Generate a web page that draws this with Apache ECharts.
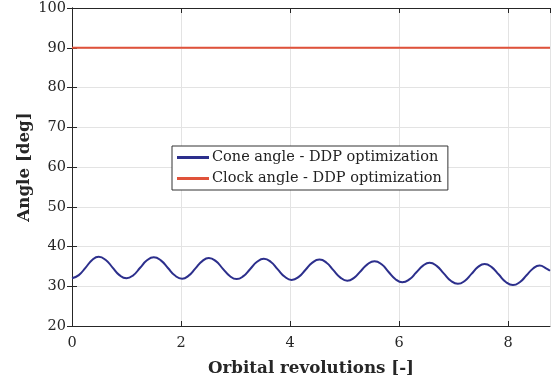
<!DOCTYPE html>
<html>
<head>
<meta charset="utf-8">
<script src="https://cdn.jsdelivr.net/npm/echarts@6/dist/echarts.min.js"></script>
<style>
  html, body { margin: 0; padding: 0; background: #fff; }
  #chart { width: 558px; height: 383px; }
</style>
</head>
<body>
<div id="chart"></div>
<script>
  // orbital revolutions (trough / mid / peak points)
  var revs = [
    0.000, 0.125, 0.250, 0.370, 0.490, 0.620, 0.745, 0.870,
    1.000, 1.125, 1.250, 1.375, 1.500, 1.630, 1.760, 1.890,
    2.020, 2.140, 2.265, 2.390, 2.510, 2.640, 2.765, 2.895,
    3.020, 3.145, 3.270, 3.395, 3.520, 3.650, 3.775, 3.905,
    4.030, 4.160, 4.285, 4.410, 4.540, 4.670, 4.795, 4.925,
    5.050, 5.175, 5.300, 5.425, 5.550, 5.680, 5.805, 5.935,
    6.060, 6.190, 6.315, 6.440, 6.560, 6.690, 6.820, 6.950,
    7.080, 7.205, 7.330, 7.450, 7.570, 7.700, 7.830, 7.960,
    8.090, 8.215, 8.340, 8.460, 8.580, 8.705, 8.770
  ];
  var coneAngle = [
    32.00, 32.80, 34.70, 36.60, 37.40, 36.60, 34.70, 32.80,
    32.00, 32.78, 34.65, 36.52, 37.30, 36.51, 34.60, 32.69,
    31.90, 32.67, 34.50, 36.33, 37.10, 36.32, 34.45, 32.58,
    31.80, 32.55, 34.35, 36.15, 36.90, 36.12, 34.25, 32.38,
    31.60, 32.35, 34.15, 35.95, 36.70, 35.92, 34.05, 32.18,
    31.40, 32.12, 33.85, 35.58, 36.30, 35.52, 33.65, 31.78,
    31.00, 31.72, 33.45, 35.18, 35.90, 35.12, 33.25, 31.38,
    30.60, 31.33, 33.10, 34.87, 35.60, 34.82, 32.95, 31.08,
    30.30, 31.02, 32.75, 34.48, 35.20, 34.44, 33.90
  ];
  var clockRevs = [0, 8.77];
  var clockAngle = [90, 90];

  var xTicks = [0, 2, 4, 6, 8];
  var yTicks = [20, 30, 40, 50, 60, 70, 80, 90, 100];

  var serif = '"DejaVu Serif", serif';

  function pairs(xs, ys) {
    var out = [];
    for (var i = 0; i < xs.length; i++) out.push([xs[i], ys[i]]);
    return out;
  }

  var boxAxisLine = { show: true, lineStyle: { color: '#262626', width: 1 } };
  var boxTick = { show: true, inside: true, length: 5, lineStyle: { color: '#262626' } };
  var gridLine = { show: true, lineStyle: { color: '#e3e3e3', width: 1 } };

  var chart = echarts.init(document.getElementById('chart'));
  var option = {
    animation: false,
    backgroundColor: '#fff',
    grid: { left: 72, right: 8, top: 8, bottom: 57 },
    legend: {
      orient: 'vertical',
      left: 172,
      top: 146,
      padding: [4, 6, 4, 5],
      itemGap: 6,
      itemWidth: 32,
      itemHeight: 3,
      icon: 'rect',
      backgroundColor: '#fff',
      borderColor: '#333',
      borderWidth: 1,
      textStyle: { fontFamily: serif, fontSize: 14.5, color: '#222', padding: [0, 0, 0, -2] },
      data: ['Cone angle - DDP optimization', 'Clock angle - DDP optimization']
    },
    xAxis: [{
      type: 'value',
      min: 0,
      max: 8.77,
      interval: 2,
      name: 'Orbital revolutions [-]',
      nameLocation: 'middle',
      nameGap: 34,
      nameTextStyle: { fontFamily: serif, fontSize: 16.7, fontWeight: 'bold', color: '#262626' },
      axisLine: boxAxisLine,
      axisTick: boxTick,
      axisLabel: {
        fontFamily: serif, fontSize: 14.5, color: '#262626', margin: 10, showMaxLabel: false,
        formatter: function (v) { return xTicks.indexOf(v) >= 0 ? String(v) : ''; }
      },
      splitLine: gridLine
    }, {
      type: 'value',
      position: 'top',
      min: 0,
      max: 8.77,
      interval: 2,
      axisLine: boxAxisLine,
      axisTick: boxTick,
      axisLabel: { show: false },
      splitLine: { show: false }
    }],
    yAxis: [{
      type: 'value',
      min: 20,
      max: 100,
      interval: 10,
      name: 'Angle [deg]',
      nameLocation: 'middle',
      nameGap: 39,
      nameMoveOverlap: false,
      nameTextStyle: { fontFamily: serif, fontSize: 16.7, fontWeight: 'bold', color: '#262626' },
      axisLine: boxAxisLine,
      axisTick: boxTick,
      axisLabel: {
        fontFamily: serif, fontSize: 14.5, color: '#262626', margin: 6,
        formatter: function (v) { return yTicks.indexOf(v) >= 0 ? String(v) : ''; }
      },
      splitLine: gridLine
    }, {
      type: 'value',
      position: 'right',
      min: 20,
      max: 100,
      interval: 10,
      axisLine: boxAxisLine,
      axisTick: boxTick,
      axisLabel: { show: false },
      splitLine: { show: false }
    }],
    series: [{
      name: 'Cone angle - DDP optimization',
      type: 'line',
      data: pairs(revs, coneAngle),
      smooth: true,
      showSymbol: false,
      symbol: 'none',
      color: '#2c2f8c',
      lineStyle: { width: 2, color: '#2c2f8c' }
    }, {
      name: 'Clock angle - DDP optimization',
      type: 'line',
      data: pairs(clockRevs, clockAngle),
      showSymbol: false,
      symbol: 'none',
      color: '#e0523a',
      lineStyle: { width: 2, color: '#e0523a' }
    }]
  };
  chart.setOption(option);
</script>
</body>
</html>
